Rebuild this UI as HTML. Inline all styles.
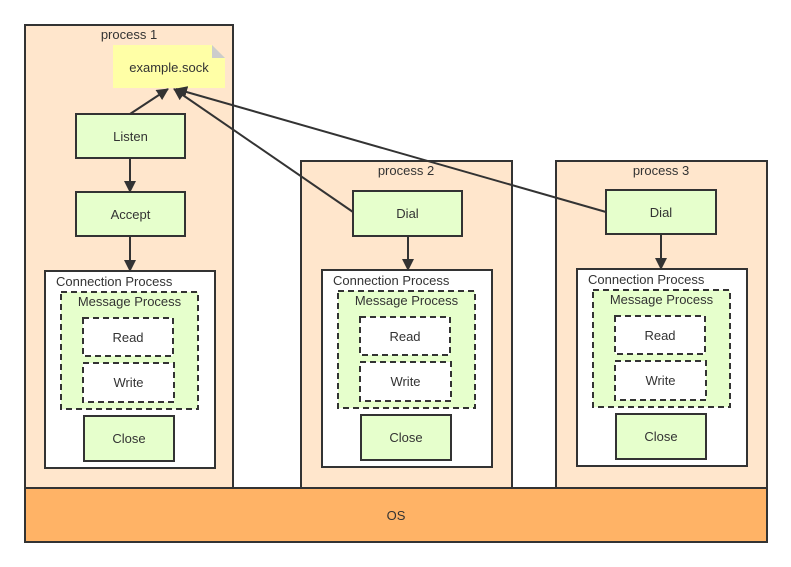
<!DOCTYPE html>
<html><head><meta charset="utf-8"><style>
html,body{margin:0;padding:0;background:#fff;}
svg{display:block;}
text{font-family:"Liberation Sans","DejaVu Sans",sans-serif;font-size:13px;fill:#333;}
</style></head><body>
<svg width="791" height="567" viewBox="0 0 791 567" xmlns="http://www.w3.org/2000/svg">
<defs>
<marker id="ah" markerWidth="12" markerHeight="12" refX="11" refY="6" orient="auto" markerUnits="userSpaceOnUse">
<path d="M0,0 L12,6 L0,12 Z" fill="#333"/>
</marker>
<g id="conn">
<rect x="0" y="0" width="170" height="197" fill="#fff" stroke="#333" stroke-width="2"/>
<text x="11" y="15">Connection Process</text>
<rect x="16" y="21" width="137" height="117" fill="#e6ffcc" stroke="#333" stroke-width="2" stroke-dasharray="6,4"/>
<text x="84.5" y="35" text-anchor="middle">Message Process</text>
<rect x="38" y="47" width="90" height="38" fill="#fff" stroke="#333" stroke-width="2" stroke-dasharray="6,4"/>
<text x="83" y="71" text-anchor="middle">Read</text>
<rect x="38" y="92" width="91" height="39" fill="#fff" stroke="#333" stroke-width="2" stroke-dasharray="6,4"/>
<text x="83.5" y="116" text-anchor="middle">Write</text>
<rect x="39" y="145" width="90" height="45" fill="#e6ffcc" stroke="#333" stroke-width="2"/>
<text x="84" y="172" text-anchor="middle">Close</text>
</g>
</defs>
<rect x="25" y="25" width="208" height="463" fill="#ffe6cc" stroke="#333" stroke-width="2"/>
<text x="129" y="39" text-anchor="middle">process 1</text>
<rect x="301" y="161" width="211" height="327" fill="#ffe6cc" stroke="#333" stroke-width="2"/>
<text x="406" y="175" text-anchor="middle">process 2</text>
<rect x="556" y="161" width="211" height="327" fill="#ffe6cc" stroke="#333" stroke-width="2"/>
<text x="661" y="175" text-anchor="middle">process 3</text>
<rect x="25" y="488" width="742" height="54" fill="#ffb366" stroke="#333" stroke-width="2"/>
<text x="396" y="520" text-anchor="middle">OS</text>
<path d="M113,45 H212 L225,58 V88 H113 Z" fill="#ffffa6"/>
<path d="M212,45 L225,58 H212 Z" fill="#ccc"/>
<text x="169" y="72" text-anchor="middle">example.sock</text>
<rect x="76" y="114" width="109" height="44" fill="#e6ffcc" stroke="#333" stroke-width="2"/>
<text x="130.5" y="141" text-anchor="middle">Listen</text>
<rect x="76" y="192" width="109" height="44" fill="#e6ffcc" stroke="#333" stroke-width="2"/>
<text x="130.5" y="219" text-anchor="middle">Accept</text>
<rect x="353" y="191" width="109" height="45" fill="#e6ffcc" stroke="#333" stroke-width="2"/>
<text x="407.5" y="218" text-anchor="middle">Dial</text>
<rect x="606" y="190" width="110" height="44" fill="#e6ffcc" stroke="#333" stroke-width="2"/>
<text x="661" y="217" text-anchor="middle">Dial</text>
<use href="#conn" x="45" y="271"/>
<use href="#conn" x="322" y="270"/>
<use href="#conn" x="577" y="269"/>
<g stroke="#333" stroke-width="2" fill="none">
<line x1="130" y1="114" x2="168" y2="89" marker-end="url(#ah)"/>
<line x1="353" y1="212" x2="174" y2="89" marker-end="url(#ah)"/>
<line x1="606" y1="212" x2="176" y2="89" marker-end="url(#ah)"/>
<line x1="130" y1="158" x2="130" y2="192" marker-end="url(#ah)"/>
<line x1="130" y1="236" x2="130" y2="271" marker-end="url(#ah)"/>
<line x1="408" y1="236" x2="408" y2="270" marker-end="url(#ah)"/>
<line x1="661" y1="234" x2="661" y2="269" marker-end="url(#ah)"/>
</g>
</svg>
</body></html>
